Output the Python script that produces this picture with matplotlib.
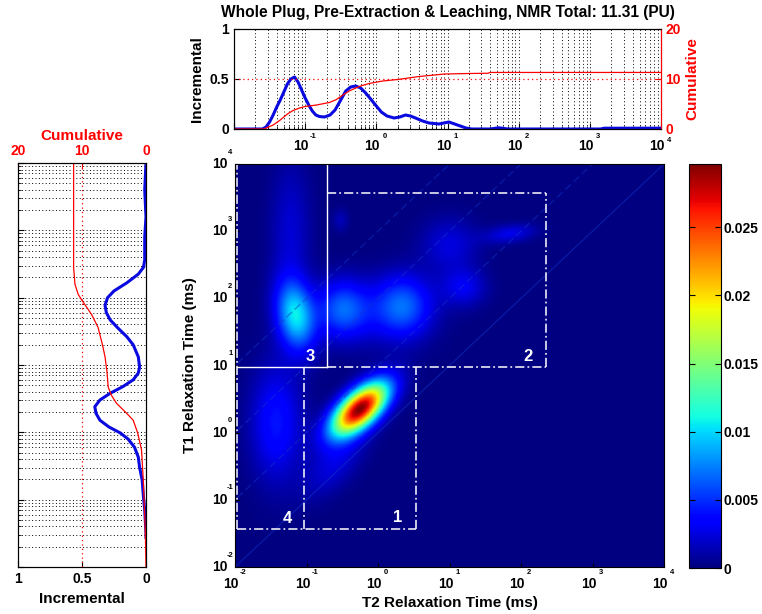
import numpy as np
import matplotlib
matplotlib.use("Agg")
import matplotlib.pyplot as plt
from matplotlib.ticker import NullLocator, LogLocator, NullFormatter

plt.rcParams['font.family'] = ['Liberation Sans', 'DejaVu Sans']
plt.rcParams['font.weight'] = 'bold'
plt.rcParams['axes.labelweight'] = 'bold'
plt.rcParams['axes.titleweight'] = 'bold'

# --- T2 distribution (top panel) ---
t2_exp = [-2.0, -1.6, -1.55, -1.5, -1.45, -1.4, -1.35, -1.3, -1.25, -1.2, -1.15,
          -1.1, -1.05, -1.0, -0.95, -0.9, -0.85, -0.8, -0.73, -0.65, -0.58, -0.5,
          -0.43, -0.36, -0.29, -0.22, -0.15, -0.08, 0.0, 0.07, 0.15, 0.25, 0.33,
          0.41, 0.48, 0.55, 0.65, 0.74, 0.88, 0.95, 1.02, 1.1, 1.18, 1.26, 1.34,
          1.6, 1.72, 1.85, 2.5, 3.15, 3.2, 4.0]
t2_incr = [0.0, 0.0, 0.02, 0.07, 0.14, 0.22, 0.29, 0.37, 0.45, 0.50, 0.52,
           0.47, 0.39, 0.31, 0.24, 0.18, 0.14, 0.125, 0.12, 0.14, 0.19, 0.29,
           0.38, 0.42, 0.43, 0.41, 0.36, 0.30, 0.23, 0.17, 0.13, 0.11, 0.12,
           0.14, 0.13, 0.11, 0.08, 0.06, 0.05, 0.06, 0.07, 0.05, 0.03, 0.01, 0.0,
           0.0, 0.012, 0.0, 0.0, 0.0, 0.008, 0.008]
t2c_exp = [-2.0, -1.58, -1.45, -1.35, -1.25, -1.17, -1.08, -1.0, -0.84, -0.66,
           -0.56, -0.47, -0.38, -0.29, -0.2, -0.1, 0.09, 0.3, 0.6, 0.96, 1.3,
           1.57, 1.6, 4.0]
t2_cum = [0.0, 0.0, 0.8, 1.8, 3.0, 3.7, 4.2, 4.5, 4.8, 5.3,
          5.9, 6.8, 7.6, 8.2, 8.7, 9.1, 9.6, 9.9, 10.5, 11.0, 11.1,
          11.15, 11.31, 11.31]

# --- T1 distribution (left panel) ---
t1_exp = [4.0, 3.6, 3.2, 2.9, 2.56, 2.45, 2.35, 2.22, 2.1, 2.0, 1.89, 1.78, 1.67,
          1.55, 1.42, 1.3, 1.12, 0.97, 0.88, 0.78, 0.68, 0.58, 0.48, 0.38, 0.28,
          0.18, 0.08, -0.01, -0.1, -0.22, -0.37, -0.52, -0.71, -0.96, -1.15,
          -1.5, -1.56]
t1_incr = [0.0, 0.01, 0.0, 0.01, 0.01, 0.02, 0.06, 0.15, 0.25, 0.30, 0.32, 0.31, 0.28,
           0.22, 0.15, 0.10, 0.06, 0.05, 0.06, 0.10, 0.18, 0.28, 0.36, 0.40, 0.39,
           0.36, 0.29, 0.20, 0.14, 0.09, 0.06, 0.05, 0.03, 0.02, 0.01,
           0.0, 0.0]
t1c_exp = [4.0, 2.45, 2.2, 2.05, 1.96, 1.75, 1.56, 1.3, 1.12, 0.9, 0.67, 0.55,
           0.43, 0.3, 0.18, -0.01, -0.26, -0.75, -1.5, -2.0]
t1_cum = [11.31, 11.31, 11.1, 10.6, 10.0, 8.5, 7.5, 6.8, 6.4, 6.1, 5.9, 5.4,
          4.6, 3.2, 2.0, 1.3, 0.7, 0.4, 0.1, 0.0]

# --- T1-T2 map components (log10 T2, log10 T1, widths, correlation, amplitude) ---
blob_t2 = [-0.25, -1.15, -1.22, -1.42, -0.49, 0.35, 1.00, 1.20, 1.85, -0.60, -0.52, 0.0]
blob_t1 = [0.36, 1.75, 3.00, 0.15, 1.85, 1.90, 2.80, 2.17, 2.97, -0.45, 3.17, 1.75]
blob_w2 = [0.27, 0.19, 0.20, 0.25, 0.25, 0.28, 0.28, 0.22, 0.25, 0.30, 0.08, 0.5]
blob_w1 = [0.27, 0.36, 0.75, 0.60, 0.30, 0.32, 0.28, 0.20, 0.10, 0.35, 0.12, 0.35]
blob_rho = [0.62, -0.2, 0.0, 0.0, 0.0, 0.0, 0.0, 0.0, 0.3, 0.6, 0.0, 0.0]
blob_amp = [0.0295, 0.0100, 0.0022, 0.0042, 0.0060, 0.0060, 0.0025, 0.0030, 0.0028, 0.0025, 0.0015, 0.0015]

diag_ratio = [1, 10, 100, 1000]
cbar_ticks = [0, 0.005, 0.01, 0.015, 0.02, 0.025]
cbar_labels = ['0', '0.005', '0.01', '0.015', '0.02', '0.025']

# cut-offs of the regions (ms)
t2_cut_a, t2_cut_b, t2_cut_c, t2_cut_d = 0.093, 0.195, 3.4, 224.0
t1_cut_lo, t1_cut_mid, t1_cut_hi = 0.037, 9.5, 3700.0

W, H = 762, 614
def px_box(l, t, r, b):
    return [l / W, 1 - b / H, (r - l) / W, (b - t) / H]

def decade_labels(ax, axis, exps, fs=10, exp_dy=-4.3):
    for e in exps:
        v = 10.0 ** e
        if axis == 'x':
            xy, coords = (v, 0), ('data', 'axes fraction')
            ax.annotate('10', xy, xycoords=coords, xytext=(-2.9, -7.5), textcoords='offset points',
                        ha='center', va='top', fontsize=fs, fontweight='bold')
            ax.annotate(str(e), xy, xycoords=coords, xytext=(6.0, exp_dy), textcoords='offset points',
                        ha='center', va='center', fontsize=5.5, fontweight='bold')
        else:
            xy, coords = (0, v), ('axes fraction', 'data')
            ax.annotate('10', xy, xycoords=coords, xytext=(-5.5, 0), textcoords='offset points',
                        ha='right', va='center', fontsize=fs, fontweight='bold')
            ax.annotate(str(e), xy, xycoords=coords, xytext=(-3.4, 8.6), textcoords='offset points',
                        ha='center', va='center', fontsize=5.5, fontweight='bold')

fig = plt.figure(figsize=(7.62, 6.14), dpi=100)
ax_t = fig.add_axes(px_box(234, 29, 661, 129))
ax_l = fig.add_axes(px_box(18, 163, 146, 567))
ax_m = fig.add_axes(px_box(235, 164, 664, 567))
cax = fig.add_axes(px_box(689, 164, 721, 568))

blue = '#0a0ae0'

# ---------- top panel ----------
ax_t.set_xscale('log')
ax_t.plot(10.0 ** np.array(t2_exp), t2_incr, color=blue, lw=2.2)
ax_t.set_xlim(1e-2, 1e4)
ax_t.set_ylim(0, 1)
ax_t.set_yticks([0, 0.5, 1])
ax_t.set_yticklabels(['0', '0.5', '1'])
ax_t.axhline(0.5, color='red', ls=(0, (1, 2.5)), lw=0.9)
ax_t.xaxis.set_minor_locator(LogLocator(base=10, subs=np.arange(2, 10), numticks=20))
ax_t.xaxis.set_minor_formatter(NullFormatter())
ax_t.set_xticks([10.0 ** e for e in range(-2, 5)])
ax_t.set_xticklabels([])
ax_t.grid(True, which='both', axis='x', color='k', ls=(0, (1, 2.5)), lw=0.7)
ax_t.tick_params(direction='in', labelsize=10, length=4)
ax_t.tick_params(which='minor', direction='in', length=2)
decade_labels(ax_t, 'x', [-1, 0, 1, 2, 3], exp_dy=-5.6)
decade_labels(ax_t, 'x', [4], exp_dy=-8.2)
ax_t.set_ylabel('Incremental', fontsize=11)
ax_t.yaxis.set_label_coords(-0.07, 0.5)
ax_t.set_title('Whole Plug, Pre-Extraction & Leaching, NMR Total: 11.31 (PU)', fontsize=11.2, pad=9)

ax_tc = ax_t.twinx()
ax_tc.plot(10.0 ** np.array(t2c_exp), t2_cum, color='red', lw=0.9)
ax_tc.set_ylim(0, 20)
ax_tc.set_yticks([0, 10, 20])
ax_tc.tick_params(direction='in', colors='red', labelsize=10, length=4, pad=3)
ax_tc.spines['right'].set_color('red')
ax_tc.set_ylabel('Cumulative', color='red', fontsize=11)
ax_tc.yaxis.set_label_coords(1.058, 0.5)

# ---------- left panel ----------
ax_l.set_yscale('log')
ax_l.plot(t1_incr, 10.0 ** np.array(t1_exp), color=blue, lw=2.2)
ax_l.set_ylim(1e-2, 1e4)
ax_l.set_xlim(1, 0)
ax_l.set_xticks([1, 0.5, 0])
ax_l.set_xticklabels(['1', '0.5', '0'])
ax_l.yaxis.set_minor_locator(LogLocator(base=10, subs=np.arange(2, 10), numticks=20))
ax_l.yaxis.set_minor_formatter(NullFormatter())
ax_l.set_yticks([10.0 ** e for e in range(-2, 5)])
ax_l.set_yticklabels([])
ax_l.grid(True, which='both', axis='y', color='k', ls=(0, (1, 2.5)), lw=0.7)
ax_l.axvline(0.5, color='red', ls=(0, (1, 2.5)), lw=0.9)
ax_l.tick_params(direction='in', labelsize=10, length=4)
ax_l.tick_params(which='minor', direction='in', length=2)
ax_l.set_xlabel('Incremental', fontsize=11)
ax_l.xaxis.set_label_coords(0.5, -0.062)

ax_lc = ax_l.twiny()
ax_lc.plot(t1_cum, 10.0 ** np.array(t1c_exp), color='red', lw=0.9)
ax_lc.set_xlim(20, 0)
ax_lc.set_xticks([20, 10, 0])
ax_lc.tick_params(direction='in', colors='red', labelsize=10, length=4)
ax_lc.set_xlabel('Cumulative', color='red', fontsize=11)
ax_lc.xaxis.set_label_coords(0.5, 1.057)

# ---------- T1-T2 map ----------
g = np.linspace(-2, 4, 301)
L2, L1 = np.meshgrid(g, g)
field = np.zeros_like(L2)
for c2, c1, w2, w1, rho, amp in zip(blob_t2, blob_t1, blob_w2, blob_w1, blob_rho, blob_amp):
    dx = (L2 - c2) / w2
    dy = (L1 - c1) / w1
    q = (dx ** 2 - 2 * rho * dx * dy + dy ** 2) / (1 - rho ** 2)
    field += amp * np.exp(-0.5 * q)

ax_m.set_xscale('log')
ax_m.set_yscale('log')
mesh = ax_m.pcolormesh(10.0 ** L2, 10.0 ** L1, field, cmap='jet',
                       vmin=0, vmax=field.max(), shading='gouraud')
ax_m.set_xlim(1e-2, 1e4)
ax_m.set_ylim(1e-2, 1e4)

tt = np.array([1e-3, 1e5])
for r in diag_ratio:
    ls = '-' if r == 1 else (0, (6, 3))
    ax_m.plot(tt, r * tt, color='#1535c8', lw=0.9, ls=ls, alpha=0.5)

dd = dict(color='white', lw=1.1, ls=(0, (6, 2, 1.2, 2)))
sl = dict(color='white', lw=1.0, ls='-')
x0 = 1.05e-2
# region 3 (solid right and bottom edges)
ax_m.plot([x0, t2_cut_b], [9.9e3, 9.9e3], **dd)
ax_m.plot([x0, x0], [t1_cut_lo, 9.9e3], **dd)
ax_m.plot([t2_cut_b, t2_cut_b], [t1_cut_mid, 1e4], **sl)
ax_m.plot([x0, t2_cut_b], [t1_cut_mid, t1_cut_mid], **sl)
# region 2
ax_m.plot([t2_cut_b, t2_cut_d], [t1_cut_hi, t1_cut_hi], **dd)
ax_m.plot([t2_cut_d, t2_cut_d], [t1_cut_mid, t1_cut_hi], **dd)
ax_m.plot([t2_cut_b, t2_cut_d], [t1_cut_mid, t1_cut_mid], **dd)
# regions 4 and 1
ax_m.plot([x0, t2_cut_c], [t1_cut_lo, t1_cut_lo], **dd)
ax_m.plot([t2_cut_a, t2_cut_a], [t1_cut_lo, t1_cut_mid], **dd)
ax_m.plot([t2_cut_c, t2_cut_c], [t1_cut_lo, t1_cut_mid], **dd)

lab = dict(color='white', fontsize=12, fontweight='bold', ha='center', va='center')
ax_m.text(0.112, 13.5, '3', **lab)
ax_m.text(126, 13.5, '2', **lab)
ax_m.text(0.054, 0.052, '4', **lab)
ax_m.text(1.9, 0.055, '1', **lab)

ax_m.set_xticks([10.0 ** e for e in range(-2, 5)])
ax_m.set_yticks([10.0 ** e for e in range(-2, 5)])
ax_m.set_xticklabels([])
ax_m.set_yticklabels([])
ax_m.xaxis.set_minor_locator(NullLocator())
ax_m.yaxis.set_minor_locator(NullLocator())
ax_m.tick_params(direction='in', length=3)
decade_labels(ax_m, 'x', range(-2, 5))
decade_labels(ax_m, 'y', range(-2, 5))
ax_m.set_xlabel('T2 Relaxation Time (ms)', fontsize=11)
ax_m.xaxis.set_label_coords(0.5, -0.072)
ax_m.set_ylabel('T1 Relaxation Time (ms)', fontsize=11)
ax_m.yaxis.set_label_coords(-0.088, 0.5)

cb = fig.colorbar(mesh, cax=cax, ticks=cbar_ticks)
cb.ax.set_yticklabels(cbar_labels)
cax.tick_params(direction='in', left=True, right=True, length=4, labelsize=10, pad=2)

fig.savefig('out.png', dpi=100)
